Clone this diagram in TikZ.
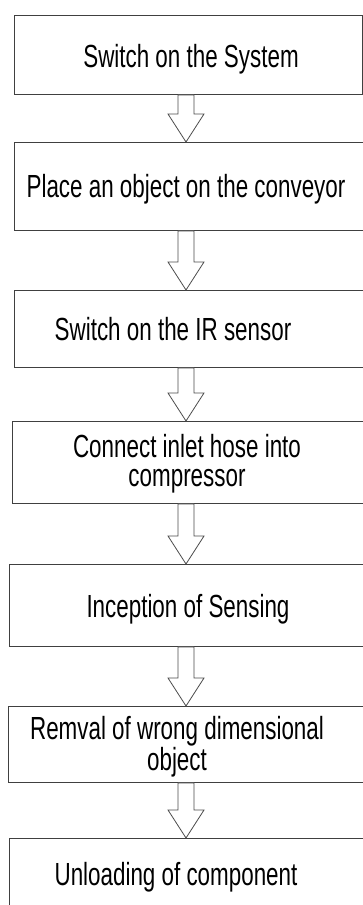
\documentclass[tikz,border=0pt]{standalone}
\usepackage{fontspec}
\setmainfont[FakeStretch=0.70]{Liberation Sans}
\usetikzlibrary{calc}
\tikzset{bx/.append style={draw=black!75, line width=0.9pt, rectangle, anchor=north west, inner sep=0pt}}
\tikzset{tx/.append style={font=\fontsize{32}{29}\selectfont, align=center, inner sep=0pt}}
\tikzset{ar/.append style={draw=black!70, line width=0.8pt, fill=white, line join=miter}}
\newcommand{\blkarrow}[2]{%
  \draw[ar] let \p1=(#1.south), \p2=(#2.north) in
    (178pt,\y1) -- (194pt,\y1) -- (194pt,\y2+28pt) -- (204pt,\y2+28pt) -- (186pt,\y2)
    -- (168pt,\y2+28pt) -- (178pt,\y2+28pt) -- cycle;}

\begin{document}
\begin{tikzpicture}[x=1pt,y=-1pt]
                \useasboundingbox (0,0) rectangle (363,905);
                % boxes
                \node[bx,minimum width=348pt,minimum height=79pt] (b1) at (14,15) {};
                \node[bx,minimum width=360pt,minimum height=88pt] (b2) at (14,142) {};
                \node[bx,minimum width=360pt,minimum height=77pt] (b3) at (14,290) {};
                \node[bx,minimum width=362pt,minimum height=82pt] (b4) at (12,421) {};
                \node[bx,minimum width=365pt,minimum height=82pt] (b5) at (9,564) {};
                \node[bx,minimum width=366pt,minimum height=76pt] (b6) at (8,706) {};
                \node[bx,minimum width=365pt,minimum height=80pt] (b7) at (9,838) {};
                % texts
                \node[tx,anchor=base] (t1) at (191,67) {Switch on the System};
                \node[tx,anchor=base] (t2) at (186,197) {Place an object on the conveyor};
                \node[tx,anchor=base] (t3) at (173,340) {Switch on the IR sensor};
                \node[tx] (t4) at (187,464) {Connect inlet hose into\\compressor};
                \node[tx,anchor=base] (t5) at (188,617) {Inception of Sensing};
                \node[tx] (t6) at (177,747) {Remval of wrong dimensional\\object};
                \node[tx,anchor=base] (t7) at (176,885) {Unloading of component};
                % arrows
                \blkarrow{b1}{b2}
                \blkarrow{b2}{b3}
                \blkarrow{b3}{b4}
                \blkarrow{b4}{b5}
                \blkarrow{b5}{b6}
                \blkarrow{b6}{b7}
            \end{tikzpicture}
\end{document}
